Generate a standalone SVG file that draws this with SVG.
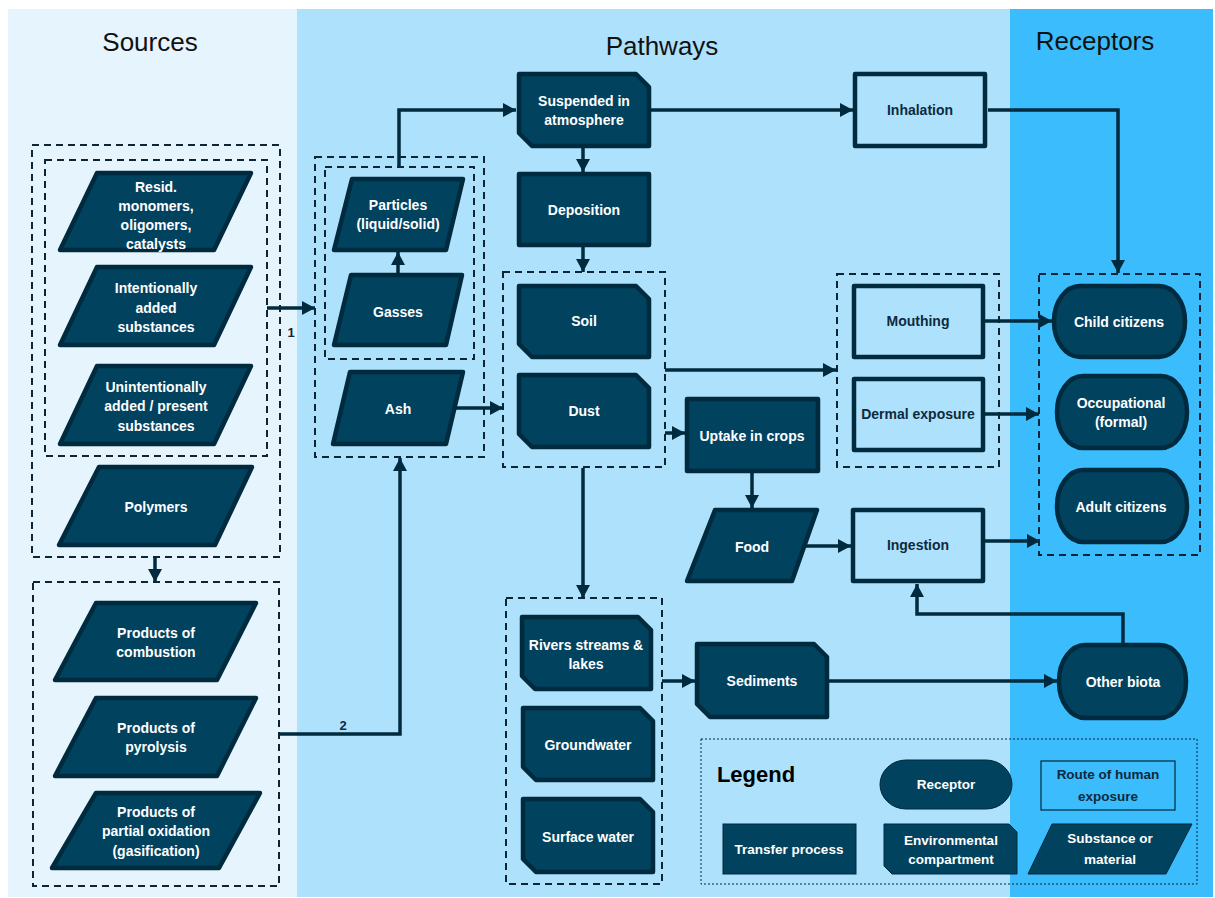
<svg xmlns="http://www.w3.org/2000/svg" width="1215" height="898" viewBox="0 0 1215 898">
<style>
.n{fill:#01425F;stroke:#002A3D;stroke-width:4.5;stroke-linejoin:round}
.r{fill:#AEE2FC;stroke:#002A3D;stroke-width:4.5;stroke-linejoin:round}
.lg{fill:#01425F;stroke:#002A3D;stroke-width:1}
.lr{fill:none;stroke:#002A3D;stroke-width:1.2}
.g{fill:none;stroke:#0D2535;stroke-width:2;stroke-dasharray:7 5}
.c{fill:none;stroke:#002A3D;stroke-width:3.5;stroke-linejoin:miter}
text{font-family:"Liberation Sans",Arial,sans-serif;text-anchor:middle}
.t{fill:#FFFFFF;font-size:14px;font-weight:bold}
.d{fill:#0F2A3D;font-size:14px;font-weight:bold}
.ts{fill:#FFFFFF;font-size:13.5px;font-weight:bold}
.ds{fill:#0F2A3D;font-size:13.5px;font-weight:bold}
.h{fill:#111111;font-size:26px}
</style>
<defs>
<marker id="a" markerUnits="userSpaceOnUse" viewBox="0 0 13 14" markerWidth="13" markerHeight="14" refX="13" refY="7" orient="auto">
<path d="M0,0 L13,7 L0,14 Z" fill="#002A3D"/>
</marker>
</defs>

<g id="backgrounds">
<rect x="8" y="9" width="289" height="888" fill="#E6F4FD"/>
<rect x="297" y="9" width="713" height="888" fill="#AEE2FC"/>
<rect x="1010" y="9" width="203" height="888" fill="#3BBCFD"/>
<text class="h" x="150" y="51">Sources</text>
<text class="h" x="662" y="55">Pathways</text>
<text class="h" x="1095" y="50">Receptors</text>
</g>

<g id="groups">
<rect class="g" x="32" y="145" width="248" height="412"/>
<rect class="g" x="45" y="160" width="222" height="296"/>
<rect class="g" x="33" y="582" width="246" height="304"/>
<rect class="g" x="315" y="157" width="169" height="300"/>
<rect class="g" x="325" y="167" width="149" height="192"/>
<rect class="g" x="503" y="272" width="162" height="195"/>
<rect class="g" x="506" y="598" width="156" height="286"/>
<rect class="g" x="837" y="274" width="162" height="193"/>
<rect class="g" x="1039" y="274" width="161" height="281"/>
</g>

<g id="connectors">
<path class="c" d="M267,308 H315" marker-end="url(#a)"/>
<text class="d" x="291" y="337" style="font-size:13px">1</text>
<path class="c" d="M279,734 H400 V458" marker-end="url(#a)"/>
<text class="d" x="343" y="730" style="font-size:13px">2</text>
<path class="c" d="M155,557 V582" marker-end="url(#a)"/>
<path class="c" d="M398,273 V252" marker-end="url(#a)"/>
<path class="c" d="M399,167 V110 H516" marker-end="url(#a)"/>
<path class="c" d="M456,408 H503" marker-end="url(#a)"/>
<path class="c" d="M583,148 V172" marker-end="url(#a)"/>
<path class="c" d="M583,247 V272" marker-end="url(#a)"/>
<path class="c" d="M651,110 H853" marker-end="url(#a)"/>
<path class="c" d="M988,110 H1118 V273" marker-end="url(#a)"/>
<path class="c" d="M665,370 H836" marker-end="url(#a)"/>
<path class="c" d="M665,433 H685" marker-end="url(#a)"/>
<path class="c" d="M752,473 V508" marker-end="url(#a)"/>
<path class="c" d="M805,546 H851" marker-end="url(#a)"/>
<path class="c" d="M583,468 V598" marker-end="url(#a)"/>
<path class="c" d="M662,681 H695" marker-end="url(#a)"/>
<path class="c" d="M829,681 H1057" marker-end="url(#a)"/>
<path class="c" d="M1123,643 V614 H917 V584" marker-end="url(#a)"/>
<path class="c" d="M985,321 H1052" marker-end="url(#a)"/>
<path class="c" d="M985,414 H1039" marker-end="url(#a)"/>
<path class="c" d="M985,541 H1040" marker-end="url(#a)"/>
</g>

<g id="resid">
<polygon class="n" points="97,173 251,173 214,250 60,250"/>
<text class="t" x="156" y="192">Resid.</text>
<text class="t" x="156" y="211">monomers,</text>
<text class="t" x="156" y="230">oligomers,</text>
<text class="t" x="156" y="249">catalysts</text>
</g>
<g id="intentional">
<polygon class="n" points="97,267 251,267 214,345 60,345"/>
<text class="t" x="156" y="293">Intentionally</text>
<text class="t" x="156" y="313">added</text>
<text class="t" x="156" y="332">substances</text>
</g>
<g id="unintentional">
<polygon class="n" points="97,366 251,366 214,444 60,444"/>
<text class="t" x="156" y="392">Unintentionally</text>
<text class="t" x="156" y="411">added / present</text>
<text class="t" x="156" y="431">substances</text>
</g>
<g id="polymers">
<polygon class="n" points="99,467 252,467 215,545 59,545"/>
<text class="t" x="156" y="512">Polymers</text>
</g>
<g id="combustion">
<polygon class="n" points="96,603 256,603 217,680 55,680"/>
<text class="t" x="156" y="638">Products of</text>
<text class="t" x="156" y="657">combustion</text>
</g>
<g id="pyrolysis">
<polygon class="n" points="96,698 256,698 217,776 55,776"/>
<text class="t" x="156" y="733">Products of</text>
<text class="t" x="156" y="752">pyrolysis</text>
</g>
<g id="oxidation">
<polygon class="n" points="96,793 260,793 219,868 52,868"/>
<text class="t" x="156" y="817">Products of</text>
<text class="t" x="156" y="836">partial oxidation</text>
<text class="t" x="156" y="856">(gasification)</text>
</g>

<g id="particles">
<polygon class="n" points="352,179 463,179 446,250 334,250"/>
<text class="t" x="398" y="210">Particles</text>
<text class="t" x="398" y="229">(liquid/solid)</text>
</g>
<g id="gasses">
<polygon class="n" points="351,275 462,275 446,345 334,345"/>
<text class="t" x="398" y="317">Gasses</text>
</g>
<g id="ash">
<polygon class="n" points="350,372 463,372 446,444 333,444"/>
<text class="t" x="398" y="414">Ash</text>
</g>

<g id="suspended">
<path class="n" d="M519,74 H636 L649,87 V146 H532 L519,133 Z"/>
<text class="t" x="584" y="106">Suspended in</text>
<text class="t" x="584" y="125">atmosphere</text>
</g>
<g id="deposition">
<rect class="n" x="519" y="174" width="130" height="71"/>
<text class="t" x="584" y="215">Deposition</text>
</g>
<g id="soil">
<path class="n" d="M519,286 H636 L649,299 V357 H532 L519,344 Z"/>
<text class="t" x="584" y="326">Soil</text>
</g>
<g id="dust">
<path class="n" d="M519,375 H636 L649,388 V447 H532 L519,434 Z"/>
<text class="t" x="584" y="416">Dust</text>
</g>
<g id="uptake">
<rect class="n" x="687" y="399" width="131" height="72"/>
<text class="t" x="752" y="441">Uptake in crops</text>
</g>
<g id="food">
<polygon class="n" points="715,510 817,510 792,581 687,581"/>
<text class="t" x="752" y="552">Food</text>
</g>
<g id="rivers">
<path class="n" d="M522,617 H638 L651,630 V689 H535 L522,676 Z"/>
<text class="t" x="586" y="650">Rivers streams &amp;</text>
<text class="t" x="586" y="669">lakes</text>
</g>
<g id="groundwater">
<path class="n" d="M523,708 H640 L653,721 V780 H536 L523,767 Z"/>
<text class="t" x="588" y="750">Groundwater</text>
</g>
<g id="surface">
<path class="n" d="M523,799 H640 L653,812 V872 H536 L523,859 Z"/>
<text class="t" x="588" y="842">Surface water</text>
</g>
<g id="sediments">
<path class="n" d="M697,644 H814 L827,657 V717 H710 L697,704 Z"/>
<text class="t" x="762" y="686">Sediments</text>
</g>

<g id="inhalation">
<rect class="r" x="855" y="74" width="130" height="72"/>
<text class="d" x="920" y="115">Inhalation</text>
</g>
<g id="mouthing">
<rect class="r" x="854" y="286" width="129" height="71"/>
<text class="d" x="918" y="326">Mouthing</text>
</g>
<g id="dermal">
<rect class="r" x="854" y="379" width="129" height="71"/>
<text class="d" x="918" y="419">Dermal exposure</text>
</g>
<g id="ingestion">
<rect class="r" x="853" y="510" width="130" height="71"/>
<text class="d" x="918" y="550">Ingestion</text>
</g>

<g id="child">
<rect class="n" x="1054" y="286" width="131" height="71" rx="26" ry="35"/>
<text class="t" x="1119" y="327">Child citizens</text>
</g>
<g id="occupational">
<rect class="n" x="1057" y="376" width="130" height="72" rx="26" ry="36"/>
<text class="t" x="1121" y="408">Occupational</text>
<text class="t" x="1121" y="427">(formal)</text>
</g>
<g id="adult">
<rect class="n" x="1057" y="470" width="130" height="72" rx="26" ry="36"/>
<text class="t" x="1121" y="512">Adult citizens</text>
</g>
<g id="biota">
<rect class="n" x="1059" y="645" width="127" height="73" rx="26" ry="36"/>
<text class="t" x="1123" y="687">Other biota</text>
</g>

<g id="legend">
<rect x="701" y="739" width="496" height="145" fill="none" stroke="#0D2535" stroke-width="1" stroke-dasharray="2 2"/>
<text x="756" y="782" style="font-size:22px;font-weight:bold;fill:#000">Legend</text>
<rect class="lg" x="880" y="760" width="132" height="49" rx="26" ry="24.5"/>
<text class="ts" x="946" y="789">Receptor</text>
<rect class="lr" x="1041" y="761" width="134" height="49"/>
<text class="ds" x="1108" y="779">Route of human</text>
<text class="ds" x="1108" y="801">exposure</text>
<rect class="lg" x="723" y="824" width="133" height="50"/>
<text class="ts" x="789" y="854">Transfer process</text>
<path class="lg" d="M884,824 H1009 L1017,832 V874 H892 L884,866 Z"/>
<text class="ts" x="951" y="845">Environmental</text>
<text class="ts" x="951" y="864">compartment</text>
<polygon class="lg" points="1052,824 1192,824 1166,874 1028,874"/>
<text class="ts" x="1110" y="843">Substance or</text>
<text class="ts" x="1110" y="864">material</text>
</g>
</svg>
